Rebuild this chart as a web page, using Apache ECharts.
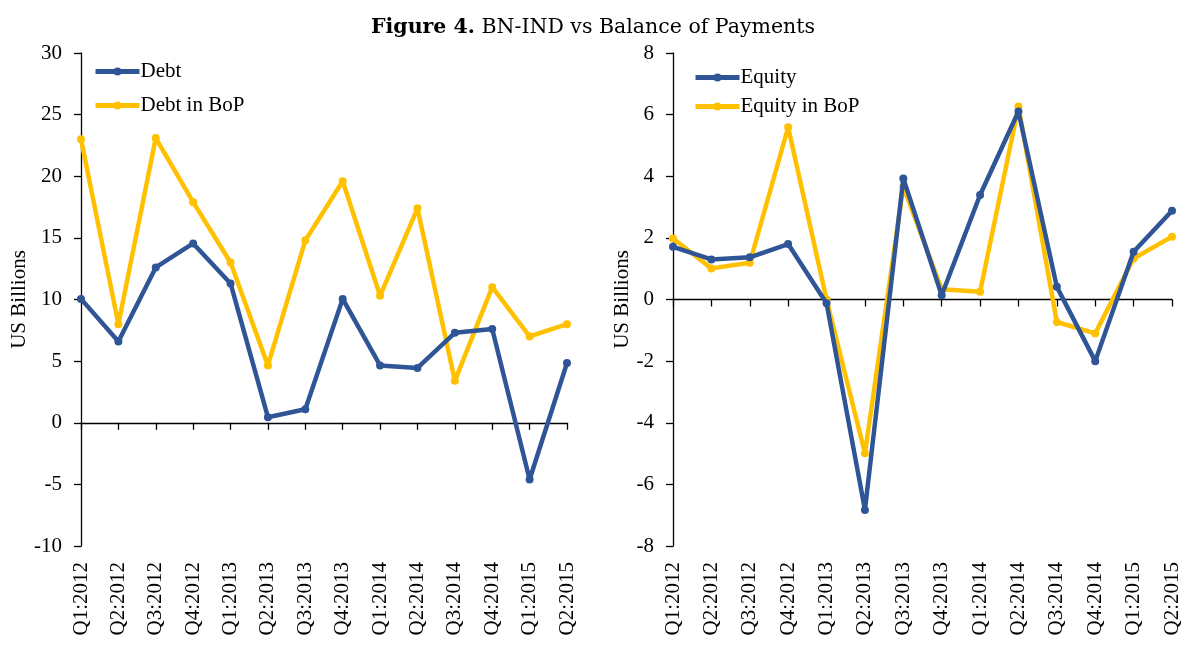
<!DOCTYPE html>
<html>
<head>
<meta charset="utf-8">
<script src="https://cdn.jsdelivr.net/npm/echarts@6/dist/echarts.min.js"></script>
<style>
  html, body { margin: 0; padding: 0; background: #fff; }
  #chart_001 { width: 1186px; height: 646px; }
</style>
</head>
<body>
<div id="chart_001"></div>
<script>
// quarters on both panels
var quarters = ['Q1:2012', 'Q2:2012', 'Q3:2012', 'Q4:2012', 'Q1:2013', 'Q2:2013', 'Q3:2013',
                'Q4:2013', 'Q1:2014', 'Q2:2014', 'Q3:2014', 'Q4:2014', 'Q1:2015', 'Q2:2015'];

// left panel (US Billions)
var debt      = [10.05, 6.6, 12.6, 14.55, 11.3, 0.45, 1.1, 10.05, 4.65, 4.45, 7.3, 7.6, -4.6, 4.85];
var debtInBoP = [23.0, 8.0, 23.1, 17.9, 13.0, 4.65, 14.8, 19.6, 10.3, 17.4, 3.4, 11.0, 7.0, 8.0];

// right panel (US Billions)
var equity      = [1.71, 1.30, 1.37, 1.80, -0.12, -6.83, 3.93, 0.14, 3.39, 6.1, 0.41, -2.0, 1.55, 2.88];
var equityInBoP = [1.98, 1.01, 1.19, 5.59, 0.0, -4.99, 3.66, 0.33, 0.25, 6.26, -0.73, -1.1, 1.33, 2.04];

var BLUE = '#2f5597', GOLD = '#ffc000';
var FONT = 'Liberation Serif';
var TITLE_FONT = 'DejaVu Serif';

function lineSeries(name, data, color, xIdx, yIdx) {
    return {
        name: name,
        type: 'line',
        xAxisIndex: xIdx,
        yAxisIndex: yIdx,
        data: data,
        symbol: 'circle',
        symbolSize: 8,
        lineStyle: { width: 4.5, color: color },
        itemStyle: { color: color },
        z: name.indexOf('BoP') > -1 ? 2 : 3
    };
}

// two x axes per grid: one sitting on zero (line + ticks), one at the bottom (labels only)
function xAxes(gridIndex) {
    return [
        {
            gridIndex: gridIndex, type: 'category', data: quarters, boundaryGap: false,
            position: 'bottom',
            axisLine: { onZero: true, lineStyle: { color: '#000', width: 1.3 } },
            axisTick: { show: true, interval: 0, length: 7, inside: false, lineStyle: { color: '#000', width: 1.3 } },
            axisLabel: { show: false, interval: 0 },
            splitLine: { show: false }
        },
        {
            gridIndex: gridIndex, type: 'category', data: quarters, boundaryGap: false,
            position: 'bottom',
            axisLine: { show: false, onZero: false },
            axisTick: { show: false },
            axisLabel: { show: true, interval: 0, rotate: 90, margin: 16, color: '#000', fontFamily: FONT, fontSize: 21 },
            splitLine: { show: false }
        }
    ];
}

function yAxis(gridIndex, min, max, interval, gap) {
    return {
        gridIndex: gridIndex, type: 'value', min: min, max: max, interval: interval,
        name: 'US Billions', nameLocation: 'middle', nameGap: gap,
        nameTextStyle: { color: '#000', fontFamily: FONT, fontSize: 21 },
        axisLine: { show: true, onZero: false, lineStyle: { color: '#000', width: 1.3 } },
        axisTick: { show: true, length: 7, lineStyle: { color: '#000', width: 1.3 } },
        axisLabel: { margin: 19, color: '#000', fontFamily: FONT, fontSize: 21 },
        splitLine: { show: false }
    };
}

function legend(names, left, top, gap) {
    return {
        data: names,
        orient: 'vertical', left: left, top: top,
        itemWidth: 44, itemHeight: 10, itemGap: gap,
        lineStyle: { width: 5 },
        textStyle: { fontFamily: FONT, fontSize: 21, color: '#000', padding: [0, 0, 0, -4] }
    };
}

var myChart = echarts.init(document.getElementById('chart_001'));

option = {
    backgroundColor: '#fff',
    animation: false,
    title: {
        text: '{b|Figure 4.} BN-IND vs Balance of Payments',
        left: 'center',
        top: 12,
        textStyle: {
            fontFamily: TITLE_FONT, fontSize: 20.5, fontWeight: 'normal', color: '#000',
            rich: { b: { fontFamily: TITLE_FONT, fontSize: 20.5, fontWeight: 'bold', color: '#000' } }
        }
    },
    legend: [
        legend(['Debt', 'Debt in BoP'], 88, 56, 13),
        legend(['Equity', 'Equity in BoP'], 688, 62, 8)
    ],
    grid: [
        { left: 81, right: 619, top: 53, bottom: 100, containLabel: false },
        { left: 673, right: 14, top: 53, bottom: 100, containLabel: false }
    ],
    xAxis: xAxes(0).concat(xAxes(1)),
    yAxis: [
        yAxis(0, -10, 30, 5, 45),
        yAxis(1, -8, 8, 2, 38)
    ],
    series: [
        lineSeries('Debt in BoP', debtInBoP, GOLD, 0, 0),
        lineSeries('Debt', debt, BLUE, 0, 0),
        lineSeries('Equity in BoP', equityInBoP, GOLD, 2, 1),
        lineSeries('Equity', equity, BLUE, 2, 1)
    ]
};

myChart.setOption(option);
</script>
</body>
</html>
